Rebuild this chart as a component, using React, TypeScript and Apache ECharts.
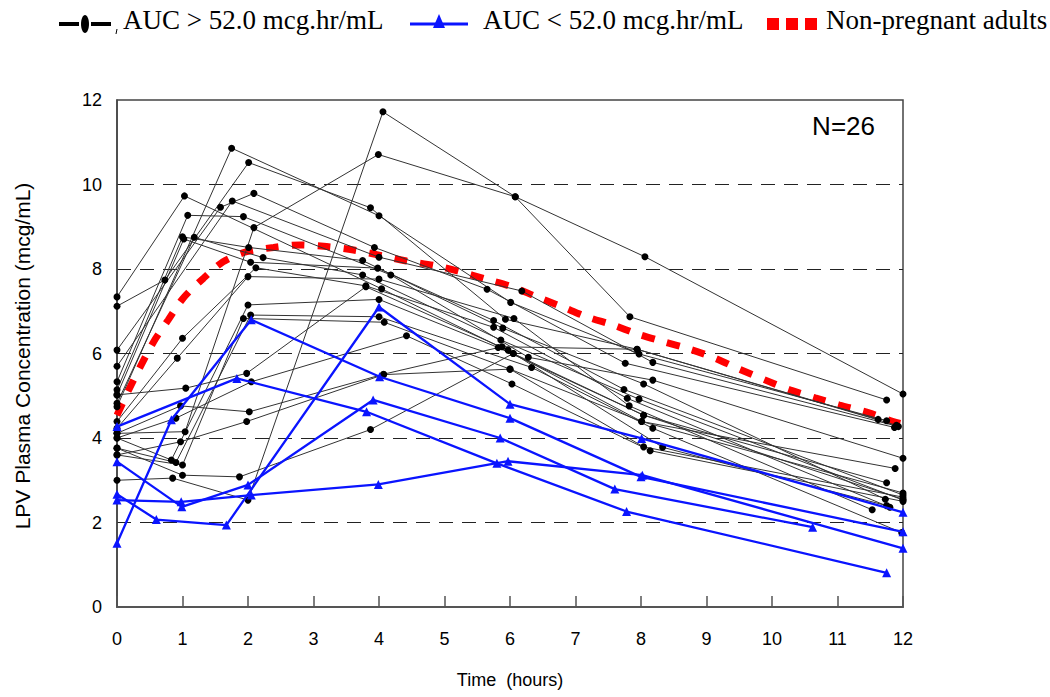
import React, { useEffect, useRef } from "react";
import * as echarts from "echarts";

// ---- Data (time in hours, LPV concentration in mcg/mL) ----
const X_TICKS = [0, 1, 2, 3, 4, 5, 6, 7, 8, 9, 10, 11, 12];
const Y_TICKS = [0, 2, 4, 6, 8, 10, 12];

// subjects with AUC > 52.0 mcg.hr/mL : [time, conc] pairs
const HIGH_AUC: number[][][] = [
  [[0, 4.74], [1.75, 10.86], [4.0, 9.26], [6.01, 7.21], [7.97, 5.99], [11.75, 4.41]],
  [[0, 7.12], [0.73, 7.74], [2.01, 10.52], [3.87, 9.45], [5.93, 6.81], [7.94, 6.1], [11.62, 4.44]],
  [[0, 3.0], [0.85, 3.05], [2.0, 2.53], [4.06, 11.72], [6.08, 9.71], [7.83, 6.87], [11.75, 4.9]],
  [[0, 4.11], [1.04, 4.15], [2.09, 8.98], [3.99, 10.71], [6.08, 9.71], [8.06, 8.29], [12, 5.04]],
  [[0, 7.34], [1.03, 9.73], [4.04, 7.53], [6.05, 6.0], [8.01, 4.39], [11.88, 3.28]],
  [[0, 6.08], [1.58, 9.46], [2.09, 9.79], [3.93, 8.51], [5.65, 7.52], [7.76, 5.77], [11.87, 4.25]],
  [[0, 5.7], [1.76, 9.61], [4.0, 8.28], [6.18, 7.48], [8.18, 5.79], [11.93, 4.27]],
  [[0, 5.33], [1.08, 9.27], [1.93, 9.24], [4.18, 7.86], [6.28, 5.91], [8.18, 5.37], [12, 3.52]],
  [[0, 5.14], [1.0, 8.76], [2.01, 8.51], [3.75, 8.2], [5.89, 6.6], [8.04, 5.28], [11.73, 2.55]],
  [[0, 5.02], [1.02, 8.71], [2.04, 8.16], [3.98, 8.02], [5.75, 6.78], [7.74, 5.15], [12, 2.65]],
  [[0, 4.82], [1.18, 8.75], [2.23, 8.27], [3.75, 7.86], [5.86, 6.32], [7.97, 4.92], [12, 2.53]],
  [[0, 4.39], [1.0, 6.36], [2.12, 8.03], [3.8, 7.6], [5.75, 6.62], [7.79, 4.94], [11.8, 2.36]],
  [[0, 4.23], [0.92, 5.89], [2.0, 7.82], [4.0, 7.76], [6.06, 6.83], [7.82, 4.76], [11.53, 2.3]],
  [[0, 4.0], [0.83, 3.48], [2.0, 7.15], [4.0, 7.28], [5.82, 6.14], [8.04, 4.54], [11.75, 2.94]],
  [[0, 3.76], [0.9, 3.42], [2.04, 6.91], [4.0, 6.87], [6.33, 5.67], [8.18, 4.23], [11.98, 1.76]],
  [[0, 3.6], [1.0, 3.36], [1.93, 6.83], [4.08, 6.74], [6.0, 5.63], [8.04, 3.79], [12, 2.6]],
  [[0, 4.0], [0.9, 4.47], [2.05, 5.33], [4.42, 6.42], [6.03, 5.28], [8.14, 3.7], [12, 2.5]],
  [[0, 5.02], [1.05, 5.18], [1.98, 5.53], [3.8, 7.58], [5.97, 6.08], [8.33, 3.78], [11.75, 2.4]],
  [[0, 4.11], [0.97, 4.76], [2.02, 4.62], [4.07, 5.51], [5.88, 6.16], [7.94, 6.1], [11.9, 4.3]],
  [[0, 3.6], [0.97, 3.91], [1.98, 4.39], [4.07, 5.5], [6.0, 5.63], [8.01, 4.39], [12, 2.7]],
  [[0, 3.76], [1.0, 3.12], [1.87, 3.08], [3.87, 4.2], [6.05, 6.0], [8.04, 4.54], [12, 2.55]],
];

// subjects with AUC < 52.0 mcg.hr/mL
const LOW_AUC: number[][][] = [
  [[0, 1.51], [0.83, 4.43], [2.05, 6.8], [4.01, 5.45], [6.0, 4.47], [8.0, 3.08], [12, 1.78]],
  [[0, 3.44], [0.99, 2.37], [2.0, 2.89], [3.91, 4.9], [5.85, 4.0], [7.6, 2.79], [10.62, 1.89]],
  [[0, 2.53], [0.98, 2.49], [2.05, 2.65], [3.99, 2.9], [5.97, 3.45], [8.02, 3.12], [12, 1.39]],
  [[0, 4.27], [1.83, 5.41], [3.81, 4.62], [5.8, 3.4], [7.78, 2.26], [11.75, 0.81]],
  [[0, 2.67], [0.6, 2.07], [1.67, 1.94], [4.0, 7.1], [6.0, 4.8], [8.01, 3.99], [12, 2.24]],
];

// non-pregnant adults reference profile
const REF_TIME = [0, 0.18, 0.35, 0.56, 0.78, 1.01, 1.32, 1.62, 1.98, 2.39, 2.79, 3.2, 3.61, 4.0, 4.42, 4.86, 5.23, 5.63, 6.03, 6.41, 6.79, 7.17, 7.58, 7.95, 8.34, 8.75, 9.13, 9.5, 9.9, 10.27, 10.66, 11.03, 11.47, 11.85, 12];
const REF_CONC = [4.54, 5.14, 5.67, 6.28, 6.79, 7.31, 7.78, 8.17, 8.41, 8.51, 8.57, 8.53, 8.45, 8.33, 8.19, 8.08, 7.94, 7.76, 7.58, 7.34, 7.11, 6.87, 6.67, 6.46, 6.28, 6.1, 5.89, 5.63, 5.37, 5.14, 4.95, 4.78, 4.6, 4.39, 4.33];

const LEGEND_HIGH = "AUC > 52.0 mcg.hr/mL";
const LEGEND_LOW = "AUC < 52.0 mcg.hr/mL";
const LEGEND_REF = "Non-pregnant adults";

const SANS = "'Liberation Sans Narrow', 'Liberation Sans', Arial, sans-serif";
const SANS_REG = "'Liberation Sans', Arial, sans-serif";
const SERIF = "'Liberation Serif', 'Times New Roman', serif";

export default function App() {
  const ref = useRef<HTMLDivElement>(null);
  useEffect(() => {
    if (!ref.current) return;
    const chart = echarts.init(ref.current, undefined, { renderer: "svg" });

    const series: any[] = [];
    series.push({
      name: LEGEND_REF,
      type: "line",
      data: REF_TIME.map((t, i) => [t, REF_CONC[i]]),
      symbol: "none",
      smooth: 0.3,
      z: 2,
      lineStyle: { color: "#ff0000", width: 7, type: [13, 13], cap: "butt" },
    });
    HIGH_AUC.forEach((s) => {
      series.push({
        name: LEGEND_HIGH,
        type: "line",
        data: s,
        symbol: "circle",
        symbolSize: 7,
        z: 3,
        itemStyle: { color: "#000" },
        lineStyle: { color: "#333", width: 1 },
      });
    });
    LOW_AUC.forEach((s) => {
      series.push({
        name: LEGEND_LOW,
        type: "line",
        data: s,
        symbol: "triangle",
        symbolSize: 9,
        z: 4,
        itemStyle: { color: "#0a14ff" },
        lineStyle: { color: "#0a14ff", width: 2.3 },
      });
    });

    const legendY = 24;
    chart.setOption({
      animation: false,
      backgroundColor: "#fff",
      grid: {
        left: 117,
        right: 147,
        top: 100,
        bottom: 90,
        show: true,
        borderColor: "#444",
        borderWidth: 1.5,
        backgroundColor: "transparent",
      },
      xAxis: {
        type: "value",
        min: X_TICKS[0],
        max: X_TICKS[X_TICKS.length - 1],
        interval: 1,
        axisLine: { show: true, lineStyle: { color: "#555", width: 2 } },
        axisTick: { show: true, inside: true, length: 11, lineStyle: { color: "#555", width: 1.5 } },
        axisLabel: { color: "#000", fontSize: 18, fontFamily: SANS, margin: 23 },
        splitLine: { show: false },
      },
      yAxis: {
        type: "value",
        min: Y_TICKS[0],
        max: Y_TICKS[Y_TICKS.length - 1],
        interval: 2,
        axisLine: { show: true, lineStyle: { color: "#444", width: 1.5 } },
        axisTick: { show: false },
        axisLabel: { color: "#000", fontSize: 18, fontFamily: SANS, margin: 15 },
        splitLine: {
          show: true,
          showMinLine: false,
          showMaxLine: false,
          lineStyle: { color: "#222", width: 1, type: [14, 9] },
        },
      },
      series,
      graphic: [
        // legend: AUC > 52
        { type: "rect", shape: { x: 59, y: legendY - 2, width: 20, height: 4 }, style: { fill: "#000" } },
        { type: "rect", shape: { x: 91, y: legendY - 2, width: 20, height: 4 }, style: { fill: "#000" } },
        { type: "ellipse", shape: { cx: 85, cy: legendY, rx: 4, ry: 9 }, style: { fill: "#000" } },
        { type: "line", shape: { x1: 116, y1: legendY + 10, x2: 117, y2: legendY + 5 }, style: { stroke: "#000", lineWidth: 1 } },
        { type: "text", x: 123, y: 20, style: { text: LEGEND_HIGH, fill: "#000", font: `27px ${SERIF}`, textAlign: "left", textVerticalAlign: "middle" } },
        // legend: AUC < 52
        { type: "rect", shape: { x: 410, y: legendY - 1.5, width: 58, height: 3 }, style: { fill: "#0a14ff" } },
        { type: "polygon", shape: { points: [[439, legendY - 10], [433, legendY + 4], [445, legendY + 4]] }, style: { fill: "#0a14ff" } },
        { type: "text", x: 483, y: 20, style: { text: LEGEND_LOW, fill: "#000", font: `27px ${SERIF}`, textAlign: "left", textVerticalAlign: "middle" } },
        // legend: non-pregnant adults
        { type: "rect", shape: { x: 767, y: legendY - 6, width: 12, height: 12 }, style: { fill: "#ff0000" } },
        { type: "rect", shape: { x: 786, y: legendY - 6, width: 12, height: 12 }, style: { fill: "#ff0000" } },
        { type: "rect", shape: { x: 805, y: legendY - 6, width: 12, height: 12 }, style: { fill: "#ff0000" } },
        { type: "text", x: 826, y: 20, style: { text: LEGEND_REF, fill: "#000", font: `27px ${SERIF}`, textAlign: "left", textVerticalAlign: "middle" } },
        // N label
        { type: "text", x: 875, y: 126, style: { text: "N=26", fill: "#000", font: `26px ${SANS_REG}`, textAlign: "right", textVerticalAlign: "middle" } },
        // axis titles
        { type: "text", x: 510, y: 680, style: { text: "Time  (hours)", fill: "#000", font: `18px ${SANS}`, textAlign: "center", textVerticalAlign: "middle" } },
        {
          type: "text",
          x: 22,
          y: 356,
          rotation: Math.PI / 2,
          style: { text: "LPV Plasma Concentration (mcg/mL)", fill: "#000", font: `21px ${SANS_REG}`, textAlign: "center", textVerticalAlign: "middle" },
        },
      ],
    });
    return () => chart.dispose();
  }, []);
  return <div ref={ref} style={{ width: 1050, height: 697, position: "absolute", left: 0, top: 0 }} />;
}
